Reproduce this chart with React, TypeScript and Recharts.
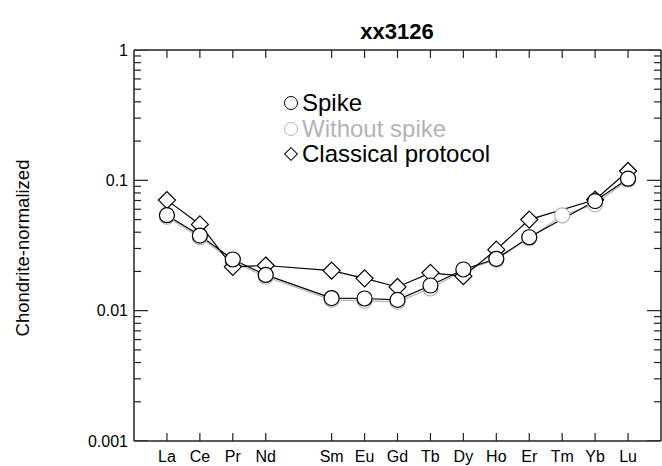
import React from "react";
import { LineChart, Line, XAxis, YAxis } from "recharts";

const elements = ["La", "Ce", "Pr", "Nd", "Pm", "Sm", "Eu", "Gd", "Tb", "Dy", "Ho", "Er", "Tm", "Yb", "Lu"];
const xTicks = [0, 1, 2, 3, 5, 6, 7, 8, 9, 10, 11, 12, 13, 14];
const spike: (number | null)[] = [0.054, 0.0377, 0.0247, 0.0188, null, 0.0125, 0.0124, 0.0121, 0.0156, 0.0207, 0.025, 0.0366, null, 0.0693, 0.103];
const withoutSpike: (number | null)[] = [0.0525, 0.0365, 0.0238, 0.0182, null, 0.0121, 0.0119, 0.0117, 0.0148, 0.0203, 0.0246, 0.036, 0.0538, 0.0655, 0.101];
const classical: (number | null)[] = [0.0705, 0.0459, 0.0217, 0.0222, null, 0.0203, 0.0177, 0.0152, 0.0195, 0.0184, 0.0294, 0.05, null, 0.071, 0.118];
const yTicks = [
  0.001, 0.002, 0.003, 0.004, 0.005, 0.006, 0.007, 0.008, 0.009,
  0.01, 0.02, 0.03, 0.04, 0.05, 0.06, 0.07, 0.08, 0.09,
  0.1, 0.2, 0.3, 0.4, 0.5, 0.6, 0.7, 0.8, 0.9, 1,
];
const legendItems = [
  { name: "Spike", color: "#000", shape: "circle" },
  { name: "Without spike", color: "#b3b3b3", shape: "circle" },
  { name: "Classical protocol", color: "#000", shape: "diamond" },
];

const data = elements
  .map((el, i) => ({ x: i, el, spike: spike[i], without: withoutSpike[i], classical: classical[i] }))
  .filter((d) => d.el !== "Pm");

const FONT = "'Liberation Sans', Arial, Helvetica, sans-serif";
const AX = "#222";

const W = 662;
const H = 466;
const M = { top: 50, right: 1, bottom: 0, left: 0 };
const Y_AXIS_W = 134;
const X_AXIS_H = 25;
const X_MIN = -1;
const X_MAX = 15;
const Y_MIN = 0.001;
const Y_MAX = 1;

// tick-mark anchor points, placed through the chart's own scales
const leftTickData = yTicks.map((v) => ({ x: X_MIN, t: v }));
const rightTickData = yTicks.map((v) => ({ x: X_MAX, t: v }));
const bottomTickData = xTicks.map((v) => ({ x: v, t: Y_MIN }));
const topTickData = xTicks.map((v) => ({ x: v, t: Y_MAX }));

const isMajor = (v: number) => Math.abs(Math.log10(v) - Math.round(Math.log10(v))) < 1e-6;

const TickMark = (p: any) => {
  const { cx, cy, payload, side } = p;
  if (cx == null || cy == null || !payload) return <g />;
  let d = "";
  if (side === "left" || side === "right") {
    const len = isMajor(Number(payload.t)) ? 14 : 7;
    d = side === "left" ? `M${cx},${cy}H${cx + len}` : `M${cx},${cy}H${cx - len}`;
  } else {
    d = side === "bottom" ? `M${cx},${cy}V${cy - 8}` : `M${cx},${cy}V${cy + 8}`;
  }
  return <path d={d} stroke={AX} strokeWidth={1.2} fill="none" />;
};

const LeftLabel = (p: any) => {
  const v = Number(p.payload.value);
  if (!isMajor(v)) return <g />;
  return (
    <text x={p.x} y={p.y} dy="0.35em" textAnchor="end" fontSize={16} fontFamily={FONT} fill="#000">
      {String(v)}
    </text>
  );
};

const BottomLabel = (p: any) => (
  <text x={p.x} y={Number(p.y) + 21} textAnchor="middle" fontSize={16} fontFamily={FONT} fill="#000">
    {elements[Number(p.payload.value)]}
  </text>
);

const Diamond = (p: any) => {
  const { cx, cy, value } = p;
  if (value == null || cx == null || cy == null) return <g />;
  const s = 8.5;
  return (
    <polygon
      points={`${cx},${cy - s} ${cx + s},${cy} ${cx},${cy + s} ${cx - s},${cy}`}
      fill="#fff"
      stroke="#000"
      strokeWidth={1.2}
    />
  );
};

const frame = { stroke: AX, strokeWidth: 1.5 };

const LegendMarker = ({ shape, color }: { shape: string; color: string }) =>
  shape === "circle" ? (
    <div
      style={{
        position: "absolute",
        left: -18,
        top: 5,
        width: 14,
        height: 14,
        boxSizing: "border-box",
        border: `1.2px solid ${color}`,
        borderRadius: "50%",
        background: "#fff",
      }}
    />
  ) : (
    <div
      style={{
        position: "absolute",
        left: -16,
        top: 7,
        width: 10,
        height: 10,
        boxSizing: "border-box",
        border: `1.2px solid ${color}`,
        background: "#fff",
        transform: "rotate(45deg)",
      }}
    />
  );

export default function App() {
  return (
    <div style={{ position: "absolute", left: 0, top: 0, width: W, height: H, background: "#fff", fontFamily: FONT }}>
      <LineChart width={W} height={H} data={data} margin={M}>
        <XAxis
          dataKey="x"
          type="number"
          domain={[X_MIN, X_MAX]}
          ticks={xTicks}
          interval={0}
          allowDataOverflow
          height={X_AXIS_H}
          tickSize={0}
          tickMargin={0}
          tickLine={false}
          axisLine={frame}
          tick={(p: any) => <BottomLabel {...p} />}
        />
        <XAxis
          xAxisId="top"
          orientation="top"
          mirror
          dataKey="x"
          type="number"
          domain={[X_MIN, X_MAX]}
          allowDataOverflow
          height={20}
          tick={false}
          tickLine={false}
          axisLine={frame}
        />
        <YAxis
          scale="log"
          type="number"
          domain={[Y_MIN, Y_MAX]}
          ticks={yTicks}
          interval={0}
          allowDataOverflow
          width={Y_AXIS_W}
          tickSize={0}
          tickMargin={6}
          tickLine={false}
          axisLine={frame}
          tick={(p: any) => <LeftLabel {...p} />}
        />
        <YAxis
          yAxisId="right"
          orientation="right"
          mirror
          scale="log"
          type="number"
          domain={[Y_MIN, Y_MAX]}
          allowDataOverflow
          width={20}
          tick={false}
          tickLine={false}
          axisLine={frame}
        />
        <Line
          xAxisId="top"
          yAxisId="right"
          dataKey="spike"
          stroke="none"
          dot={false}
          activeDot={false}
          legendType="none"
          connectNulls
          isAnimationActive={false}
        />
        <Line data={leftTickData} dataKey="t" stroke="none" dot={<TickMark side="left" />} activeDot={false} legendType="none" isAnimationActive={false} />
        <Line data={rightTickData} dataKey="t" stroke="none" dot={<TickMark side="right" />} activeDot={false} legendType="none" isAnimationActive={false} />
        <Line data={bottomTickData} dataKey="t" stroke="none" dot={<TickMark side="bottom" />} activeDot={false} legendType="none" isAnimationActive={false} />
        <Line data={topTickData} dataKey="t" stroke="none" dot={<TickMark side="top" />} activeDot={false} legendType="none" isAnimationActive={false} />
        <Line
          dataKey="without"
          stroke="#b3b3b3"
          strokeWidth={1.2}
          connectNulls
          dot={{ r: 7.5, fill: "#fff", stroke: "#b3b3b3", strokeWidth: 1.2 }}
          activeDot={false}
          isAnimationActive={false}
        />
        <Line
          dataKey="classical"
          stroke="#000"
          strokeWidth={1.2}
          connectNulls
          dot={<Diamond />}
          activeDot={false}
          isAnimationActive={false}
        />
        <Line
          dataKey="spike"
          stroke="#000"
          strokeWidth={1.2}
          connectNulls
          dot={{ r: 7.5, fill: "#fff", stroke: "#000", strokeWidth: 1.2 }}
          activeDot={false}
          isAnimationActive={false}
        />
      </LineChart>
      <div
        style={{
          position: "absolute",
          left: 297,
          top: 21.4,
          width: 200,
          textAlign: "center",
          fontSize: 22,
          lineHeight: "22px",
          fontWeight: "bold",
          color: "#000",
          pointerEvents: "none",
        }}
      >
        xx3126
      </div>
      <div
        style={{
          position: "absolute",
          left: -127,
          top: 238,
          width: 300,
          height: 20,
          lineHeight: "20px",
          textAlign: "center",
          fontSize: 18.5,
          color: "#000",
          transform: "rotate(-90deg)",
          pointerEvents: "none",
          whiteSpace: "nowrap",
        }}
      >
        Chondrite-normalized
      </div>
      {legendItems.map((it, i) => (
        <div
          key={it.name}
          style={{
            position: "absolute",
            left: 302,
            top: 91.1 + [0, 26, 51][i],
            fontSize: 24,
            lineHeight: "24px",
            color: it.color,
            whiteSpace: "nowrap",
            pointerEvents: "none",
          }}
        >
          <LegendMarker shape={it.shape} color={it.color} />
          {it.name}
        </div>
      ))}
    </div>
  );
}
